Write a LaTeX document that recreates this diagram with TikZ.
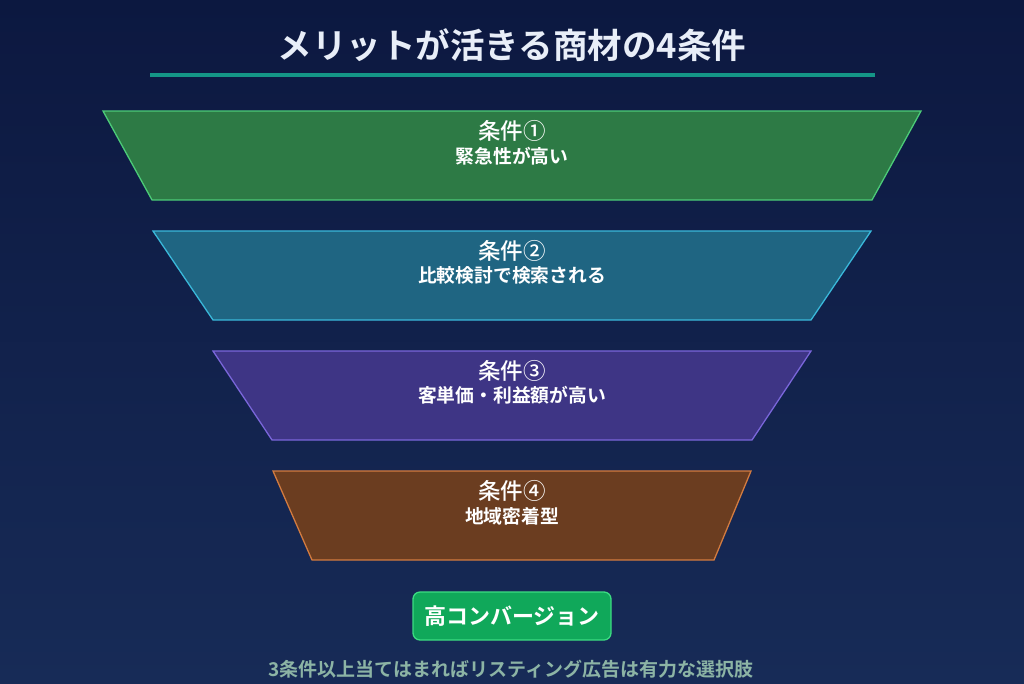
\documentclass[tikz,border=0pt]{standalone}
\usepackage{fontspec}
\setmainfont{Noto Sans CJK JP}[BoldFont={* Bold}]
\newfontfamily\jpb{Noto Sans CJK JP Bold}
\newfontfamily\jpm{Noto Sans CJK JP Medium}
\begin{document}
\begin{tikzpicture}[x=1pt,y=-1pt,
  lbl/.style={text=white,font=\jpm\fontsize{22.5}{26}\selectfont,inner sep=0},
  sub/.style={text=white,font=\jpb\fontsize{18.8}{22}\selectfont,inner sep=0},
  trap/.style={line width=1.3pt}]
\definecolor{bgt}{HTML}{0C1840}\definecolor{bgb}{HTML}{172B57}
\shade[top color=bgt,bottom color=bgb] (0,0) rectangle (1024,683);
\useasboundingbox (0,0) rectangle (1024,683);
\node[text={rgb,255:red,232;green,238;blue,248},font=\jpb\fontsize{34.5}{38}\selectfont] (title) at (512,45) {メリットが活きる商材の4条件};
\coordinate (l1) at (150,75); \coordinate (l2) at (875,75);
\draw[line width=4pt,color={rgb,255:red,20;green,150;blue,135}] (l1) -- (l2);
\definecolor{f1}{HTML}{2D7A45}\definecolor{d1}{HTML}{4CCB78}
\definecolor{f2}{HTML}{1F6582}\definecolor{d2}{HTML}{3AB8DA}
\definecolor{f3}{HTML}{3E3585}\definecolor{d3}{HTML}{7A66DA}
\definecolor{f4}{HTML}{6B3D20}\definecolor{d4}{HTML}{D27B40}
\draw[trap,fill=f1,draw=d1] (103,111) -- (921,111) -- (872,200) -- (152,200) -- cycle;
\draw[trap,fill=f2,draw=d2] (153,231) -- (871,231) -- (811,320) -- (213,320) -- cycle;
\draw[trap,fill=f3,draw=d3] (213,351) -- (811,351) -- (752,440) -- (272,440) -- cycle;
\draw[trap,fill=f4,draw=d4] (273,471) -- (751,471) -- (714,560) -- (312,560) -- cycle;
\node[lbl] (a1) at (512,131) {条件①}; \node[sub] (b1) at (512,156) {緊急性が高い};
\node[lbl] (a2) at (512,251) {条件②}; \node[sub] (b2) at (512,275) {比較検討で検索される};
\node[lbl] (a3) at (512,371) {条件③}; \node[sub] (b3) at (512,395) {客単価・利益額が高い};
\node[lbl] (a4) at (512,491) {条件④}; \node[sub] (b4) at (512,516) {地域密着型};
\node[draw={rgb,255:red,60;green,220;blue,130},line width=1.3pt,fill={rgb,255:red,16;green,168;blue,90},rounded corners=7pt,minimum width=198pt,minimum height=48pt,text=white,font=\jpb\fontsize{22}{26}\selectfont] (btn) at (512,616) {高コンバージョン};
\node[text={rgb,255:red,140;green,180;blue,165},font=\jpb\fontsize{19}{22}\selectfont] (foot) at (511,669) {3条件以上当てはまればリスティング広告は有力な選択肢};
\end{tikzpicture}
\end{document}
